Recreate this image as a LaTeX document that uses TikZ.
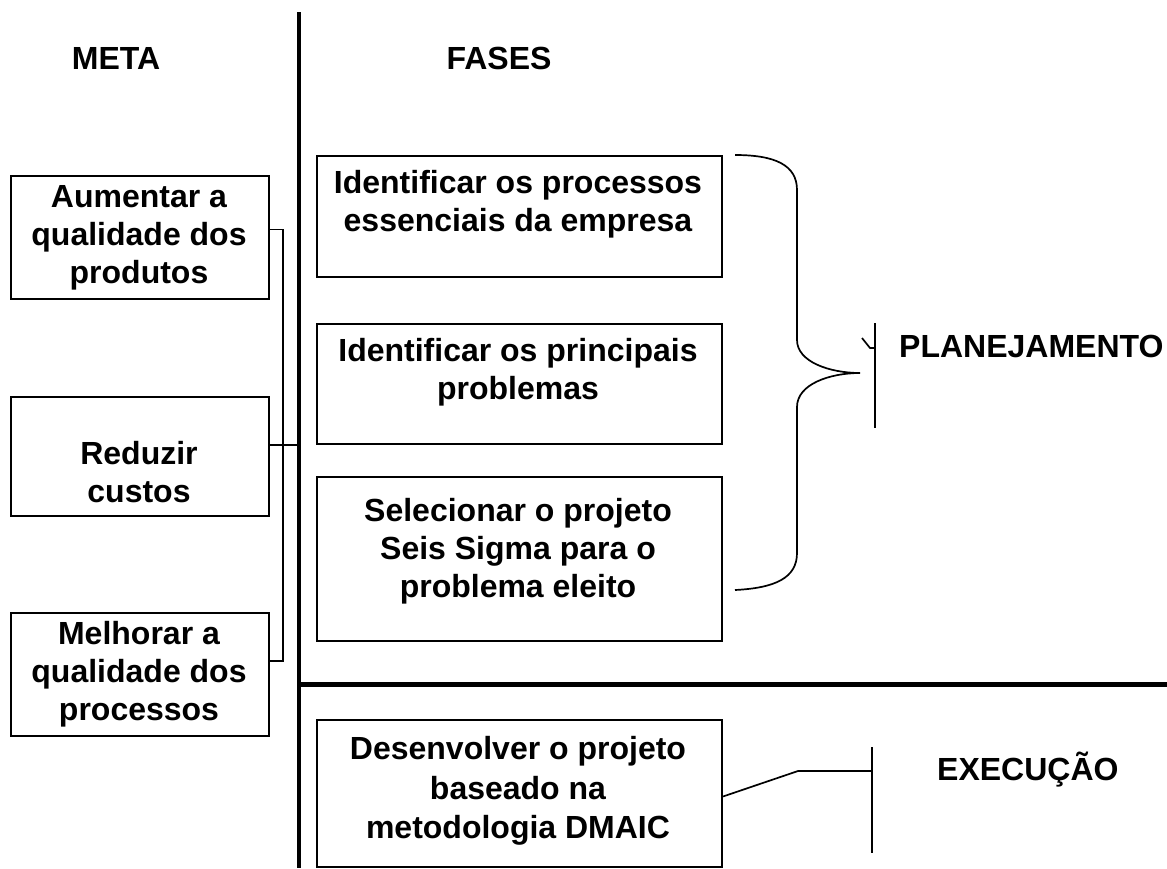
\documentclass[tikz,border=0pt]{standalone}
\usepackage{fontspec}
\setmainfont{Liberation Sans}
\begin{document}
\begin{tikzpicture}[x=1pt,y=-1pt,
  box/.style={draw, line width=2pt, inner sep=0pt, anchor=north west},
  txt/.style={font=\bfseries\fontsize{32}{38}\selectfont, align=center, inner sep=0pt},
  conn/.style={line width=1.7pt},
  heavyv/.style={line width=3.6pt},
  heavyh/.style={line width=5pt}]
\useasboundingbox (0,0) rectangle (1167,868);

% headers
\node[txt] (meta) at (116,58) {META};
\node[txt] (fases) at (499,58) {FASES};

% divider lines
\coordinate (vt) at (299,12);
\coordinate (vb) at (299,868);
\coordinate (hr) at (1167,684);
\draw[heavyv] (vt) -- (vb);
\draw[heavyh] (vt |- hr) -- (hr);

% META boxes
\node[box, minimum width=258, minimum height=123] (m1) at (10,175) {};
\node[box, minimum width=258, minimum height=119] (m2) at (10,396) {};
\node[box, minimum width=258, minimum height=123] (m3) at (10,612) {};
\node[txt] (t1) at (139,238) {Aumentar a\\qualidade dos\\produtos};
\node[txt] (t2) at (139,472) {Reduzir\\custos};
\node[txt] (t3) at (139,674) {Melhorar a\\qualidade dos\\processos};

% bracket joining META boxes
\coordinate (bx) at (283,0);
\coordinate (b1) at ([yshift=8pt]m1.east);
\coordinate (b2) at ([yshift=11.5pt]m2.east);
\coordinate (b3) at ([yshift=13.5pt]m3.east);
\draw[conn] (b1) -- (b1 -| bx) -- (b3 -| bx) -- (b3);
\draw[conn] (b2) -- (b2 -| vt);

% FASES boxes
\node[box, minimum width=405, minimum height=121] (f1) at (316,155) {};
\node[box, minimum width=405, minimum height=120] (f2) at (316,323) {};
\node[box, minimum width=405, minimum height=164] (f3) at (316,476) {};
\node[box, minimum width=405, minimum height=147] (f4) at (316,719) {};
\node[txt] (s1) at (518,204) {Identificar os processos\\essenciais da empresa};
\node[txt] (s2) at (518,372) {Identificar os principais\\problemas};
\node[txt] (s3) at (518,551) {Selecionar o projeto\\Seis Sigma para o\\problema eleito};
\node[txt, font=\bfseries\fontsize{32}{39.5}\selectfont] (s4) at (518,791) {Desenvolver o projeto\\baseado na\\metodologia DMAIC};

% brace
\coordinate (br1) at ([xshift=12pt]f1.north east);
\coordinate (br2) at ([xshift=12pt,yshift=52pt]f3.south east);
\coordinate (tip) at (860,373);
\draw[conn] (br1) .. controls (775,155) and (797,165) .. (797,190)
  -- (797,340) .. controls (797,362) and (830,373) .. (tip)
  .. controls (830,373) and (797,384) .. (797,407)
  -- (797,553) .. controls (797,578) and (775,588) .. (br2);

% PLANEJAMENTO
\coordinate (p1) at (875,323);
\coordinate (p2) at (875,428);
\coordinate (k1) at (862,338);
\coordinate (k2) at (870,348);
\draw[conn] (p1) -- (p2);
\draw[conn] (k1) -- (k2) -- (k2 -| p1);
\node[txt, anchor=base west] (plan) at (899,357) {PLANEJAMENTO};

% EXECUCAO
\coordinate (e1) at (872,747);
\coordinate (e2) at (872,853);
\coordinate (ej) at (798,771);
\draw[conn] (e1) -- (e2);
\draw[conn] ([yshift=-3pt]f4.east) -- (ej) -- (ej -| e1);
\node[txt, anchor=base west] (exec) at (937,780) {EXECUÇÃO};
\end{tikzpicture}
\end{document}
